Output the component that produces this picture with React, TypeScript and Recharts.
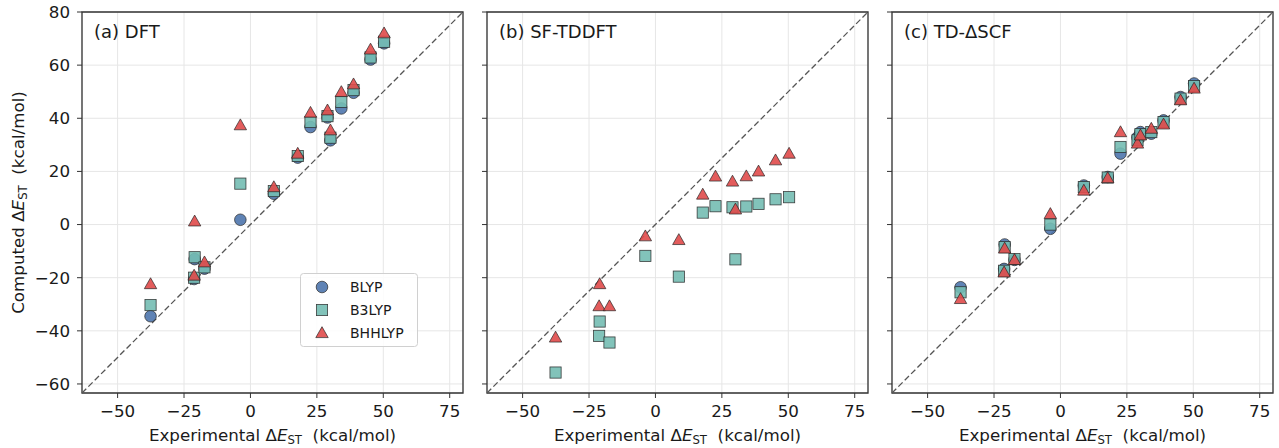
import React from "react";
import {
  ScatterChart,
  Scatter,
  XAxis,
  YAxis,
  CartesianGrid,
  ReferenceLine,
  ReferenceArea,
} from "recharts";

// experimental singlet-triplet gaps (kcal/mol), one per molecule
const EXPERIMENTAL = [-37.6, -21.2, -21.0, -17.3, -3.8, 8.8, 17.8, 22.6, 29.0, 30.1, 34.2, 38.8, 45.2, 50.3];

// (a) DFT
const DFT_BLYP = [-34.5, -20.5, -13.0, -16.6, 1.8, 11.6, 25.2, 36.7, 40.3, 31.7, 43.7, 49.6, 62.1, 68.2];
const DFT_B3LYP = [-30.3, -20.0, -12.3, -16.1, 15.4, 12.6, 25.8, 38.6, 40.8, 32.7, 46.2, 50.6, 62.9, 68.8];
const DFT_BHHLYP = [-22.4, -19.2, 1.2, -14.2, 37.4, 14.1, 26.7, 42.1, 43.0, 35.5, 49.9, 52.8, 65.9, 72.0];

// (b) SF-TDDFT (no BLYP)
const SF_B3LYP = [-55.7, -41.9, -36.5, -44.4, -11.8, -19.6, 4.5, 6.9, 6.5, -13.1, 6.8, 7.8, 9.5, 10.3];
const SF_BHHLYP = [-42.5, -30.7, -22.4, -30.7, -4.4, -5.8, 11.3, 18.1, 16.2, 5.7, 18.2, 20.0, 24.2, 26.7];

// (c) TD-ΔSCF
const TD_BLYP = [-23.6, -16.7, -7.5, -13.3, -1.6, 14.7, 17.9, 26.7, 32.8, 34.8, 34.2, 39.2, 48.0, 53.1];
const TD_B3LYP = [-25.5, -17.4, -8.5, -13.0, 0.0, 14.1, 17.7, 29.2, 31.7, 34.0, 34.8, 38.6, 47.4, 52.1];
const TD_BHHLYP = [-28.0, -18.0, -9.0, -13.3, 4.0, 12.8, 17.5, 34.8, 30.5, 33.6, 36.1, 37.7, 46.8, 51.2];

const X_TICKS = [-50, -25, 0, 25, 50, 75];
const Y_TICKS = [-60, -40, -20, 0, 20, 40, 60, 80];
const LIM: [number, number] = [-63.4, 80];

const FONT = "DejaVu Sans, sans-serif";
const EDGE = "#222";
const COLORS = { BLYP: "#4e75ad", B3LYP: "#74bcb2", BHHLYP: "#e04a4a" };

const pts = (ys: number[]) => EXPERIMENTAL.map((x, i) => ({ x, y: ys[i] }));
const fmt = (v: number) => String(v).replace("-", "\u2212");

const Circle = (p: any) => (
  <circle cx={p.cx} cy={p.cy} r={5.8} fill={COLORS.BLYP} fillOpacity={0.9} stroke={EDGE} strokeOpacity={0.85} strokeWidth={0.8} />
);
const Square = (p: any) => (
  <rect x={p.cx - 5.6} y={p.cy - 5.6} width={11.2} height={11.2} fill={COLORS.B3LYP} fillOpacity={0.9} stroke={EDGE} strokeOpacity={0.85} strokeWidth={0.8} />
);
const Triangle = (p: any) => (
  <polygon
    points={`${p.cx},${p.cy - 6.3} ${p.cx + 6.2},${p.cy + 4.6} ${p.cx - 6.2},${p.cy + 4.6}`}
    fill={COLORS.BHHLYP}
    fillOpacity={0.9}
    stroke={EDGE}
    strokeOpacity={0.85}
    strokeWidth={0.8}
  />
);

const NoLabel = () => <g />;

const XLabel = (props: any) => {
  const vb = props.viewBox;
  return (
    <text x={vb.x + vb.width / 2} y={vb.y + 48} textAnchor="middle" fontSize={16.7} fontFamily={FONT} fill="#1a1a1a">
      Experimental Δ<tspan fontStyle="italic">E</tspan>
      <tspan fontSize={11.7} dy={3}>ST</tspan>
      <tspan dy={-3}>{"\u00a0\u00a0(kcal/mol)"}</tspan>
    </text>
  );
};

const YLabel = (props: any) => {
  const vb = props.viewBox;
  const cx = 24;
  const cy = vb.y + vb.height / 2;
  return (
    <text x={cx} y={cy} transform={`rotate(-90 ${cx} ${cy})`} textAnchor="middle" fontSize={16.7} fontFamily={FONT} fill="#1a1a1a">
      Computed Δ<tspan fontStyle="italic">E</tspan>
      <tspan fontSize={11.7} dy={3}>ST</tspan>
      <tspan dy={-3}>{"\u00a0\u00a0(kcal/mol)"}</tspan>
    </text>
  );
};

type PanelProps = {
  left: number;
  width: number;
  yAxisWidth: number;
  showYLabels: boolean;
  blyp?: number[];
  b3lyp: number[];
  bhhlyp: number[];
};

function Panel({ left, width, yAxisWidth, showYLabels, blyp, b3lyp, bhhlyp }: PanelProps) {
  const tickStyle = { fontSize: 16.7, fontFamily: FONT, fill: "#1a1a1a" };
  return (
    <div style={{ position: "absolute", left, top: 0 }}>
      <ScatterChart width={width} height={448} margin={{ top: 12, right: width - yAxisWidth - 381, bottom: 15, left: 0 }}>
        <CartesianGrid stroke="#e6e6e6" strokeWidth={1} />
        <XAxis
          type="number"
          dataKey="x"
          domain={LIM}
          ticks={X_TICKS}
          allowDataOverflow
          height={40}
          axisLine={false}
          tickLine={{ stroke: "#333", strokeWidth: 1 }}
          tickSize={5}
          tickMargin={7}
          tick={tickStyle}
          tickFormatter={fmt}
          interval={0}
          label={<XLabel />}
        />
        <YAxis
          type="number"
          dataKey="y"
          domain={LIM}
          ticks={Y_TICKS}
          allowDataOverflow
          width={yAxisWidth}
          axisLine={false}
          tickLine={{ stroke: "#333", strokeWidth: 1 }}
          tickSize={5}
          tickMargin={7}
          tick={showYLabels ? tickStyle : NoLabel}
          tickFormatter={fmt}
          interval={0}
          label={showYLabels ? <YLabel /> : undefined}
        />
        <ReferenceLine
          segment={[{ x: LIM[0], y: LIM[0] }, { x: LIM[1], y: LIM[1] }]}
          stroke="#555"
          strokeWidth={1.3}
          strokeDasharray="6 3"
        />
        {blyp && <Scatter name="BLYP" data={pts(blyp)} shape={Circle} isAnimationActive={false} />}
        <Scatter name="B3LYP" data={pts(b3lyp)} shape={Square} isAnimationActive={false} />
        <Scatter name="BHHLYP" data={pts(bhhlyp)} shape={Triangle} isAnimationActive={false} />
        <ReferenceArea x1={LIM[0]} x2={LIM[1]} y1={LIM[0]} y2={LIM[1]} fill="none" stroke="#333" strokeWidth={1.3} />
      </ScatterChart>
    </div>
  );
}

const TITLES = [
  { text: "(a) DFT", x: 94 },
  { text: "(b) SF-TDDFT", x: 499 },
  { text: "(c) TD-ΔSCF", x: 904 },
];

const LEGEND = [
  { name: "BLYP", Shape: Circle },
  { name: "B3LYP", Shape: Square },
  { name: "BHHLYP", Shape: Triangle },
];

export default function App() {
  return (
    <div style={{ position: "relative", width: 1279, height: 448, background: "#fff", overflow: "hidden" }}>
      <style>{"body{margin:0}"}</style>
      <Panel left={0} width={470} yAxisWidth={82} showYLabels blyp={DFT_BLYP} b3lyp={DFT_B3LYP} bhhlyp={DFT_BHHLYP} />
      <Panel left={470} width={404} yAxisWidth={17} showYLabels={false} b3lyp={SF_B3LYP} bhhlyp={SF_BHHLYP} />
      <Panel left={875} width={404} yAxisWidth={17} showYLabels={false} blyp={TD_BLYP} b3lyp={TD_B3LYP} bhhlyp={TD_BHHLYP} />
      <svg width={1279} height={448} style={{ position: "absolute", left: 0, top: 0, pointerEvents: "none" }}>
        {TITLES.map((t) => (
          <text key={t.text} x={t.x} y={38} fontSize={18} fontFamily={FONT} fill="#1a1a1a">
            {t.text}
          </text>
        ))}
        <rect x={300.5} y={273.5} width={117} height={73} rx={3} fill="#fff" fillOpacity={0.85} stroke="#d0d0d0" />
        {LEGEND.map((l, i) => (
          <g key={l.name}>
            <l.Shape cx={322} cy={287 + i * 23} />
            <text x={350} y={287 + i * 23} dy="0.36em" fontSize={14} fontFamily={FONT} fill="#1a1a1a">
              {l.name}
            </text>
          </g>
        ))}
      </svg>
    </div>
  );
}
